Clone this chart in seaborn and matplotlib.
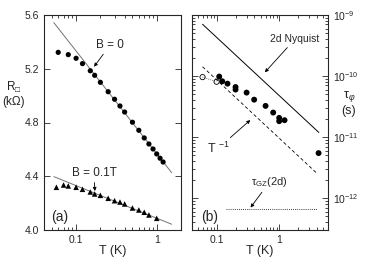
import numpy as np
import pandas as pd
import matplotlib
matplotlib.use("Agg")
import matplotlib.pyplot as plt
import seaborn as sns

# panel (a): sheet resistance vs T
t_b0 = [0.06, 0.08, 0.1, 0.12, 0.15, 0.17, 0.2, 0.25, 0.3, 0.35, 0.4, 0.5,
        0.6, 0.7, 0.8, 0.9, 1.0, 1.1, 1.2]
r_b0 = [5.322, 5.305, 5.278, 5.238, 5.185, 5.151, 5.099, 5.029, 4.973, 4.923,
        4.878, 4.802, 4.742, 4.685, 4.640, 4.603, 4.566, 4.534, 4.506]
t_b01 = [0.057, 0.07, 0.08, 0.1, 0.12, 0.15, 0.17, 0.2, 0.25, 0.3, 0.35, 0.4,
         0.5, 0.6, 0.7, 0.8, 1.0]
r_b01 = [4.318, 4.335, 4.328, 4.318, 4.303, 4.283, 4.268, 4.258, 4.236, 4.218,
         4.208, 4.194, 4.164, 4.149, 4.132, 4.112, 4.087]
fit_t = [0.053, 1.53]
fit_b0 = [5.543, 4.427]
fit_b01 = [4.397, 4.043]

# panel (b): dephasing time vs T
t_tau = [0.109, 0.122, 0.148, 0.199, 0.199, 0.299, 0.395, 0.601, 0.796, 0.993,
         0.993, 1.21, 4.24]
tau = [9.8e-11, 8.2e-11, 7.5e-11, 6.6e-11, 6.0e-11, 5.35e-11, 4.1e-11,
       3.24e-11, 2.52e-11, 2.06e-11, 1.82e-11, 1.89e-11, 5.46e-12]
t_open = [0.059, 0.099]
tau_open = [9.6e-11, 8.07e-11]
nyq_t = [0.059, 4.28]
nyq_tau = [7.05e-10, 1.19e-11]
tinv_t = [0.059, 4.03]
tinv_tau = [1.42e-10, 2.52e-12]
gz_t = [0.141, 4.03]
gz_tau = [6.6e-13, 6.6e-13]

sns.set_style("ticks")
plt.rcParams['font.family'] = ['Liberation Sans', 'DejaVu Sans']
plt.rcParams['mathtext.fontset'] = 'custom'
plt.rcParams['mathtext.rm'] = 'Liberation Sans'
plt.rcParams['mathtext.it'] = 'Liberation Sans:italic'

fig = plt.figure(figsize=(3.69, 2.73), dpi=100)
ax1 = fig.add_axes([44 / 369, 1 - 230 / 273, 137 / 369, 215 / 273])
ax2 = fig.add_axes([192 / 369, 1 - 230 / 273, 136 / 369, 215 / 273])

for ax in (ax1, ax2):
    ax.set_xscale('log')
    for s in ax.spines.values():
        s.set_linewidth(0.8)
    ax.tick_params(which='both', direction='in', top=True, right=True,
                   labelsize=7.5, width=0.6)
    ax.tick_params(which='major', length=4)
    ax.tick_params(which='minor', length=2)

# (a)
sns.lineplot(x=fit_t, y=fit_b0, ax=ax1, color='0.45', lw=0.7, estimator=None)
sns.lineplot(x=fit_t, y=fit_b01, ax=ax1, color='0.45', lw=0.7, estimator=None)
sns.scatterplot(x=t_b0, y=r_b0, ax=ax1, color='black', marker='o', s=14,
                edgecolor='none', zorder=3)
sns.scatterplot(x=t_b01, y=r_b01, ax=ax1, color='black', marker='^', s=16,
                edgecolor='none', zorder=3)
ax1.set_xlim(0.04, 2)
ax1.set_ylim(4.0, 5.6)
ax1.set_yticks([4.0, 4.4, 4.8, 5.2, 5.6])
ax1.yaxis.set_major_formatter(matplotlib.ticker.FormatStrFormatter('%.1f'))
ax1.set_xticks([0.1, 1])
ax1.set_xticklabels(['0.1', '1'])
ax1.set_xlabel('T (K)', fontsize=9, labelpad=0)
ax1.set_ylabel('')
fig.text(14 / 369, 1 - 94 / 273, 'R$_{\u25a1}$\n(k\u03a9)', ha='center',
         va='center', fontsize=8.5, linespacing=1.1)

arr = dict(arrowstyle='-|>', color='black', lw=0.6, mutation_scale=5,
           shrinkA=0, shrinkB=0)
ax1.annotate('B = 0', xy=(0.167, 5.215), xytext=(0.264, 5.377),
             ha='center', va='center', fontsize=8.5, arrowprops=arr)
ax1.annotate('B = 0.1T', xy=(0.171, 4.290), xytext=(0.167, 4.422),
             ha='center', va='center', fontsize=8.5, arrowprops=arr)
ax1.text(0.063, 4.10, '(a)', ha='center', va='center', fontsize=10)

# (b)
ax2.set_yscale('log')
sns.lineplot(x=nyq_t, y=nyq_tau, ax=ax2, color='black', lw=0.7, estimator=None)
sns.lineplot(x=tinv_t, y=tinv_tau, ax=ax2, color='black', lw=0.6,
             linestyle=(0, (4, 3)), estimator=None)
sns.lineplot(x=gz_t, y=gz_tau, ax=ax2, color='black', lw=0.6,
             linestyle=(0, (1, 1.5)), estimator=None)
sns.lineplot(x=t_open, y=tau_open, ax=ax2, color='black', lw=0.5,
             linestyle=(0, (1, 2)), estimator=None)
sns.scatterplot(x=t_tau, y=tau, ax=ax2, color='black', marker='o', s=18,
                edgecolor='none', zorder=3)
sns.scatterplot(x=t_open, y=tau_open, ax=ax2, marker='o', s=14,
                facecolor='none', edgecolor='black', linewidth=0.6, zorder=3)
ax2.set_xlim(0.04, 6)
ax2.set_ylim(3e-13, 1e-9)
ax2.set_xticks([0.1, 1])
ax2.set_xticklabels(['0.1', '1'])
ax2.set_yticks([1e-12, 1e-11, 1e-10, 1e-9])
ax2.tick_params(axis='y', which='both', labelleft=False, labelright=True)
ax2.set_xlabel('T (K)', fontsize=9, labelpad=0)
ax2.set_ylabel('')
fig.text(349 / 369, 1 - 103 / 273, '\u03c4$_{\u03c6}$\n(s)', ha='center',
         va='center', fontsize=9, linespacing=1.1)

ax2.annotate('2d Nyquist', xy=(0.586, 1.15e-10), xytext=(1.77, 4.0e-10),
             ha='center', va='center', fontsize=7.5, arrowprops=arr)
ax2.annotate('T $^{-1}$', xy=(0.343, 1.9e-11), xytext=(0.104, 6.5e-12),
             ha='center', va='center', fontsize=9, arrowprops=arr)
ax2.annotate('\u03c4$_{\\mathrm{GZ}}$(2d)', xy=(0.346, 7.0e-13),
             xytext=(0.696, 1.84e-12), ha='center', va='center',
             fontsize=8, arrowprops=arr)
ax2.text(0.0764, 4.9e-13, '(b)', ha='center', va='center', fontsize=10)

fig.savefig('out.png', dpi=100)
